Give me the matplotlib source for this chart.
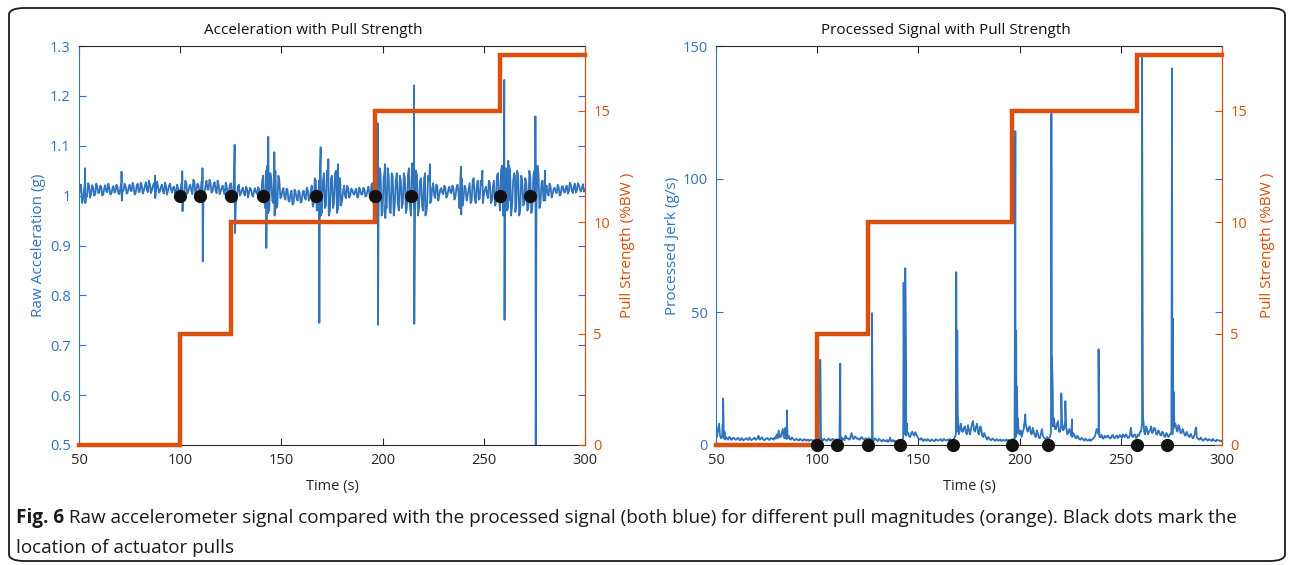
import numpy as np
import matplotlib
matplotlib.use("Agg")
import matplotlib.pyplot as plt
from matplotlib import font_manager as fm
from matplotlib.patches import FancyBboxPatch
from matplotlib.ticker import FuncFormatter

# ---------------- data ----------------
time_grid = list(range(50, 301))          # whole-second samples
time_mid = [t + 0.5 for t in range(50, 300)]  # half-second samples

# Raw acceleration (milli-g) at whole seconds, t = 50..300
raw_base_mg = [
    1000, 1022, 993, 1028, 998, 1020, 1004, 1016, 1002, 1019,
    1006, 1018, 1003, 1021, 1007, 1015, 1004, 1019, 1008, 1017,
    1003, 1026, 1010, 1020, 1006, 1022, 1009, 1018, 1005, 1024,
    1008, 1021, 1010, 1027, 1007, 1023, 1011, 1025, 1006, 1020,
    1009, 1022, 1004, 1019, 1010, 1024, 1006, 1018, 1008, 1015,
    1005, 1030, 998, 1025, 1008, 1022, 1003, 1028, 1010, 1021,
    1000, 1026, 1007, 1030, 1012, 1024, 1009, 1027, 1005, 1022,
    1008, 1020, 1002, 1018, 1006, 1025, 990, 1035, 995, 1022,
    1004, 1016, 1000, 1014, 1006, 1012, 998, 1015, 1003, 1013,
    995, 1040, 975, 1060, 970, 1035, 985, 1050, 980, 1030,
    998, 1015, 992, 1012, 988, 1010, 985, 1008, 990, 1006,
    988, 1010, 992, 1012, 995, 1020, 985, 1030, 975, 1040,
    965, 1045, 980, 1030, 970, 1040, 985, 1050, 975, 1035,
    990, 1020, 995, 1015, 1000, 1012, 1002, 1014, 998, 1010,
    1003, 1012, 1000, 1018, 995, 1025, 990, 1040, 970, 1045,
    968, 1050, 975, 1040, 965, 1038, 980, 1045, 970, 1030,
    985, 1035, 975, 1055, 960, 1060, 965, 1040, 975, 1035,
    970, 1045, 980, 1030, 990, 1025, 995, 1020, 1000, 1015,
    1003, 1016, 1000, 1018, 1005, 1014, 998, 1022, 975, 1035,
    995, 1015, 1000, 1025, 990, 1035, 985, 1030, 995, 1022,
    1000, 1018, 995, 1025, 990, 1030, 985, 1045, 970, 1060,
    965, 1055, 975, 1050, 980, 1045, 975, 1040, 970, 1030,
    985, 1025, 975, 1035, 980, 1050, 970, 1045, 985, 1030,
    995, 1020, 1000, 1018, 1003, 1016, 1005, 1017, 1002, 1019,
    1006, 1020, 1008, 1022, 1005, 1024, 1010, 1021, 1008, 1023,
    1012,
]

# Raw acceleration (milli-g) at half seconds, t = 50.5..299.5
raw_mid_mg = [
    1015, 985, 1012, 1003, 1025, 996, 1021, 1000, 1024, 1005,
    1020, 1000, 1016, 1008, 1024, 1002, 1014, 1006, 1022, 1004,
    1018, 1008, 1024, 1004, 1016, 1010, 1026, 1002, 1020, 1007,
    1026, 1004, 1018, 1012, 1030, 1005, 1020, 1009, 1028, 1006,
    1018, 1008, 1026, 1002, 1020, 1011, 1016, 1004, 1022, 1006,
    1022, 1008, 1030, 1004, 1018, 1010, 1032, 1000, 1024, 1008,
    1028, 1004, 1020, 1012, 1032, 1006, 1022, 1010, 1030, 1003,
    1016, 1008, 1026, 1000, 1020, 1004, 1030, 985, 1018, 1000,
    1012, 1004, 1018, 996, 1016, 1002, 1010, 1006, 1017, 998,
    1030, 990, 1050, 965, 1045, 990, 1060, 975, 1040, 995,
    1010, 996, 1014, 990, 1004, 982, 1012, 994, 1010, 986,
    1006, 996, 1016, 990, 1010, 978, 1035, 970, 1020, 960,
    1030, 975, 1050, 960, 1035, 975, 1045, 965, 1030, 980,
    1010, 998, 1020, 996, 1014, 1004, 1010, 996, 1016, 1002,
    1016, 998, 1010, 1002, 1022, 985, 1030, 975, 1055, 960,
    1035, 980, 1055, 970, 1045, 960, 1030, 985, 1040, 975,
    1045, 965, 1040, 980, 1065, 975, 1050, 960, 1030, 980,
    1035, 965, 1040, 985, 1015, 1000, 1022, 990, 1012, 1005,
    1020, 996, 1012, 1006, 1020, 992, 1016, 1005, 1040, 980,
    1020, 990, 1012, 985, 1030, 995, 1018, 992, 1030, 985,
    1012, 1004, 1030, 985, 1018, 980, 1040, 995, 1050, 960,
    1045, 970, 1060, 960, 1030, 985, 1050, 960, 1040, 980,
    1035, 970, 1050, 965, 1040, 990, 1060, 975, 1025, 990,
    1012, 1004, 1024, 996, 1014, 1008, 1022, 1000, 1018, 1008,
    1016, 1004, 1026, 1010, 1018, 1006, 1025, 1012, 1016, 1008,
]

# Raw acceleration spikes: time, upper extreme, lower extreme (g)
raw_spike_t = [53.0, 71.0, 87.5, 101.0, 111.0, 126.9, 142.4, 143.5, 146.5,
               168.6, 169.4, 173.2, 178.0, 197.6, 201.2, 215.5, 221.0, 223.4,
               238.7, 249.3, 260.1, 262.1, 265.4, 275.5, 280.2]
raw_spike_hi = [1.055, 1.048, 1.040, 1.049, 1.055, 1.102, 1.030, 1.118, 1.087,
                1.030, 1.097, 1.073, 1.063, 1.145, 1.063, 1.221, 1.030, 1.063,
                1.058, 1.050, 1.232, 1.070, 1.040, 1.159, 1.050]
raw_spike_lo = [0.985, 0.990, 0.995, 0.969, 0.868, 0.925, 0.895, 0.980, 0.960,
                0.745, 0.970, 0.965, 0.980, 0.741, 0.955, 0.743, 0.960, 0.985,
                0.962, 0.985, 0.751, 0.990, 0.967, 0.480, 0.990]

# Processed jerk (g/s) at whole seconds, t = 50..300
proc_base = [
    4, 6, 3.5, 3, 2.5, 3, 2, 2.8, 2.2, 2.6,
    2, 2.7, 1.8, 2.4, 2, 2.6, 1.9, 2.3, 2.1, 2.8,
    2, 3.5, 2.2, 2.5, 1.8, 2.4, 2, 2.6, 2.2, 2.9,
    4, 5.5, 3, 6, 2.5, 2.2, 3.5, 2, 2.4, 1.8,
    2.2, 1.7, 2, 1.6, 2.1, 1.8, 1.5, 2, 1.6, 1.4,
    1.5, 1.8, 2.5, 1.7, 2, 1.6, 2.2, 1.8, 2.1, 1.5,
    1.8, 2.4, 1.6, 2.2, 3.5, 2.5, 2, 4.5, 2.2, 3,
    2.5, 2, 3, 2.2, 2.6, 1.8, 2.4, 2, 1.7, 2.2,
    1.5, 2, 1.3, 1.8, 1.5, 1.2, 2.8, 1.4, 1.2, 1,
    1.2, 1.5, 2, 6, 3.5, 4.5, 3, 5, 3.5, 4,
    2.5, 2, 1.8, 2.2, 1.6, 2, 1.5, 1.8, 1.4, 2,
    1.7, 2.2, 1.5, 2, 1.8, 1.6, 2, 1.5, 3, 5,
    4, 8, 5, 7, 4, 5.5, 6, 9, 5, 8,
    4, 6.5, 3, 3.5, 2, 2.5, 1.8, 2.2, 1.6, 2,
    1.8, 1.5, 2, 1.6, 1.4, 1.8, 1.5, 2, 3, 6,
    4, 3, 6, 8, 5, 7, 4, 5, 3, 4.5,
    2.5, 6, 2.8, 2, 2.2, 3, 8, 10, 6, 9,
    5, 8, 6, 7, 4.5, 5, 3, 4, 2.5, 3,
    2, 2.5, 1.6, 2, 1.8, 1.5, 2.2, 3, 6, 4,
    3, 2.5, 3.5, 2.8, 3.2, 2.5, 3.8, 2.6, 3.6, 3,
    3.2, 4, 3, 3.5, 2.8, 6.5, 3, 4, 3, 3.5,
    5, 10, 4, 6, 5, 7, 5, 6, 4, 5,
    3.5, 4.5, 3, 4, 3.5, 5, 6, 8, 5, 6.5,
    4.5, 5, 3.5, 4, 3, 3.5, 2.8, 6.5, 2.5, 2,
    2.2, 1.8, 2.5, 1.6, 2, 1.5, 1.8, 1.4, 1.7, 1.5,
    1.6,
]

# Processed jerk (g/s) at half seconds, t = 50.5..299.5
proc_mid = [
    3, 8, 2.5, 4, 2, 2.4, 3, 1.9, 2.7, 2,
    2.5, 1.9, 2.6, 1.7, 2.3, 2, 2.8, 1.8, 2.4, 2,
    2.6, 2.1, 2.9, 1.9, 2.3, 2.7, 1.9, 2.5, 2, 2.4,
    2.5, 3, 4.5, 2.8, 3.5, 2.6, 2.2, 2.8, 1.9, 2.3,
    1.8, 2.3, 1.7, 2.2, 1.6, 2.1, 1.9, 1.6, 2, 1.7,
    2.2, 2.6, 1.9, 2.3, 1.7, 2.4, 1.6, 2.3, 1.8, 2.2,
    2, 1.7, 2.6, 1.8, 2.6, 2.2, 3.2, 2.6, 3.2, 2.4,
    2.1, 2.7, 2.3, 1.8, 2.2, 2.6, 1.9, 1.5, 2.5, 1.7,
    2.3, 1.6, 2, 1.4, 1.9, 1.6, 1.5, 1.9, 1.5, 1.3,
    1.8, 1.3, 2.5, 4, 5, 3.2, 4.5, 3.8, 4.8, 3,
    2.2, 2.6, 1.5, 1.9, 2.2, 1.5, 2.1, 1.6, 2.2, 1.6,
    2, 1.6, 2.3, 1.7, 2.1, 2.2, 1.7, 2.4, 4, 6,
    6, 5, 6.5, 4.5, 7.5, 4, 8, 5.5, 7, 4.5,
    7, 3.5, 4.5, 2.6, 3, 1.9, 2.4, 1.7, 2.2, 1.6,
    2.1, 1.7, 1.6, 2.1, 1.9, 1.4, 2.2, 1.6, 4, 5,
    5.5, 4.5, 9, 6, 6.5, 4.5, 6.5, 3.5, 5.5, 2.8,
    4, 3.5, 2.4, 3, 2.6, 5, 7, 6, 8, 5,
    7, 5.5, 9, 4, 6, 3.5, 4.5, 2.8, 3.5, 2.2,
    2.6, 1.9, 2.4, 1.6, 2.2, 1.9, 2.6, 4, 5, 3,
    3.8, 2.4, 3, 3.6, 2.5, 3.4, 2.7, 3.2, 2.6, 3.8,
    2.7, 3.2, 4, 2.6, 3.6, 3.2, 3.8, 2.6, 4, 5,
    8, 5, 7, 4, 5.5, 4.5, 6.5, 4, 5.5, 3.8,
    5, 3.2, 4.5, 3, 4.2, 4, 7, 6, 7.5, 4.5,
    6, 3.8, 5, 3.2, 4.2, 2.5, 4, 3, 2.2, 2.8,
    1.6, 2.4, 1.9, 2.2, 1.7, 2.3, 1.6, 2, 1.8, 1.4,
]

# Processed jerk spike vertices (g/s)
proc_spike_t = [53.3, 53.5, 53.8, 54.2, 84.3, 85.0, 85.3, 101.5, 101.8,
                111.4, 111.7, 127.1, 127.4, 142.7, 143.1, 143.5, 143.9, 144.3,
                168.7, 169.0, 169.2, 169.6, 197.9, 198.3, 198.7, 199.2, 202.8,
                215.7, 216.0, 216.4, 216.8, 220.6, 222.6, 225.9, 239.0, 239.3,
                260.5, 260.9, 261.3, 275.3, 275.7, 276.1, 276.5, 287.3]
proc_spike_v = [8, 17.5, 6, 5, 6.5, 13, 4, 32, 3,
                30.6, 3, 49.6, 4, 61, 5, 66.5, 25, 8,
                65, 20, 43, 10, 118, 43, 22, 10, 11.5,
                124.6, 33, 20, 10, 19.4, 16.5, 9.6, 36, 6,
                147, 22, 8, 141.6, 47.5, 20, 8, 6.5]

# Actuator pulls and pull strength
pull_times = [100, 110, 125, 141, 167, 196, 214, 258, 273]
step_t = [50, 100, 125, 196, 258, 300]
step_strength = [0, 5, 10, 15, 17.5, 17.5]

# ---------------- style ----------------
BLUE = "#2F74BD"
ORANGE = "#D9500F"
DARK = "#262626"

names = {f.name for f in fm.fontManager.ttflist}
def pick(cands):
    for c in cands:
        if c in names:
            return c
    return "DejaVu Sans"
FONT = pick(["Open Sans", "Lato", "Noto Sans"])
CAPFONT = pick(["Liberation Sans Narrow", "Open Sans", "Lato"])
plt.rcParams["font.family"] = [FONT, "DejaVu Sans"]

W, H = 1292, 565
fig = plt.figure(figsize=(W / 100, H / 100), dpi=100)

def px_axes(x0, x1, y0, y1):
    return fig.add_axes([x0 / W, 1 - y1 / H, (x1 - x0) / W, (y1 - y0) / H])

def merge(parts):
    t = np.concatenate([np.asarray(p[0], float) for p in parts])
    v = np.concatenate([np.asarray(p[1], float) for p in parts])
    o = np.argsort(t, kind="stable")
    return t[o], v[o]

raw_t_sp, raw_v_sp = [], []
for t, hi, lo in zip(raw_spike_t, raw_spike_hi, raw_spike_lo):
    raw_t_sp += [t, t + 0.15]
    raw_v_sp += [hi, lo]
raw_t, raw_v = merge([(time_grid, np.array(raw_base_mg) / 1000.0),
                      (time_mid, np.array(raw_mid_mg) / 1000.0),
                      (raw_t_sp, raw_v_sp)])
proc_t, proc_v = merge([(time_grid, proc_base), (time_mid, proc_mid),
                        (proc_spike_t, proc_spike_v)])

RIGHT_TOP = 17.9


def style_axes(ax, ax2, ylim, yticks, ylabel, lpad, rpad):
    ax.set_xlim(50, 300)
    ax.set_ylim(*ylim)
    ax.set_xticks([50, 100, 150, 200, 250, 300])
    ax.set_yticks(yticks)
    ax.yaxis.set_major_formatter(FuncFormatter(lambda v, p: f"{v:g}"))
    ax.tick_params(axis="x", direction="in", top=True, colors=DARK, labelsize=10.5,
                   length=5, width=0.8, pad=6)
    ax.tick_params(axis="y", direction="in", right=True, colors=BLUE, labelsize=10.5,
                   length=5, width=0.8, pad=6)
    for s in ("top", "bottom"):
        ax.spines[s].set_color(DARK)
        ax.spines[s].set_linewidth(0.8)
    ax.spines["left"].set_color(BLUE)
    ax.spines["left"].set_linewidth(0.8)
    ax.set_xlabel("Time (s)", fontsize=10.5, color=DARK, labelpad=7.5)
    ax.set_ylabel(ylabel, fontsize=11, color=BLUE, labelpad=lpad)

    ax2.set_ylim(0, RIGHT_TOP)
    ax2.set_yticks([0, 5, 10, 15])
    ax2.tick_params(axis="y", direction="in", colors=ORANGE, labelsize=10.5,
                    length=5, width=0.8, pad=6)
    ax2.spines["right"].set_color(ORANGE)
    ax2.spines["right"].set_linewidth(0.8)
    for s in ("left", "top", "bottom"):
        ax2.spines[s].set_visible(False)
    ax2.set_ylabel("Pull Strength (%BW )", fontsize=11, color=ORANGE, labelpad=rpad)


# ---- left panel ----
axL = px_axes(79, 585, 46, 445)
axL.plot(raw_t, raw_v, color=BLUE, lw=1.3, zorder=2)
axL2 = axL.twinx()
style_axes(axL, axL2, (0.5, 1.3), np.round(np.arange(0.5, 1.31, 0.1), 1),
           "Raw Acceleration (g)", 3, 7)
axL2.plot(step_t, step_strength, drawstyle="steps-post", color=ORANGE, lw=3.2,
          clip_on=False, zorder=3, solid_joinstyle="miter")
axL2.plot(pull_times, [1.0] * len(pull_times), "o", color="#111111", ms=8.5,
          transform=axL.transData, zorder=5)

# ---- right panel ----
axR = px_axes(716, 1222, 46, 445)
axR.plot(proc_t, proc_v, color=BLUE, lw=1.3, zorder=2)
axR2 = axR.twinx()
style_axes(axR, axR2, (0, 150), [0, 50, 100, 150], "Processed Jerk (g/s)", 1.5, 9)
axR2.plot(step_t, step_strength, drawstyle="steps-post", color=ORANGE, lw=3.2,
          clip_on=False, zorder=3, solid_joinstyle="miter")
axR2.plot(pull_times, [0.0] * len(pull_times), "o", color="#111111", ms=8.5,
          transform=axR.transData, zorder=5, clip_on=False)

# titles
fig.text(313 / W, 1 - 31 / H, "Acceleration with Pull Strength", ha="center",
         va="center", fontsize=11, color="#111111")
fig.text(946 / W, 1 - 31 / H, "Processed Signal with Pull Strength", ha="center",
         va="center", fontsize=11, color="#111111")

# border
fig.patches.append(FancyBboxPatch((9 / W, 4 / H), 1276 / W, (557 - 4) / H,
                                  boxstyle="round,pad=0,rounding_size=0.012",
                                  transform=fig.transFigure, fill=False,
                                  edgecolor="#1a1a1a", lw=1.3))

# caption
cap_bold = "Fig. 6"
cap_rest = (" Raw accelerometer signal compared with the processed signal (both blue) "
            "for different pull magnitudes (orange). Black dots mark the")
cap_line2 = "location of actuator pulls"
fs = 13
t1 = fig.text(16 / W, 1 - 518 / H, cap_bold, fontsize=fs, fontweight="bold",
              family=[CAPFONT, "DejaVu Sans"], va="center", ha="left", color="#1a1a1a")
fig.canvas.draw()
r = fig.canvas.get_renderer()
bb = t1.get_window_extent(r)
t2 = fig.text(bb.x1 / W, 1 - 518 / H, cap_rest, fontsize=fs,
              family=[CAPFONT, "DejaVu Sans"], va="center", ha="left", color="#1a1a1a")
fig.canvas.draw()
bb2 = t2.get_window_extent(r)
scale = (1233 - 16) / (bb2.x1 - bb.x0)
fs2 = fs * scale
t1.set_fontsize(fs2)
fig.canvas.draw()
bb = t1.get_window_extent(r)
t2.set_fontsize(fs2)
t2.set_x(bb.x1 / W)
fig.text(16 / W, 1 - 548 / H, cap_line2, fontsize=fs2,
         family=[CAPFONT, "DejaVu Sans"], va="center", ha="left", color="#1a1a1a")

fig.savefig("out.png", dpi=100)
